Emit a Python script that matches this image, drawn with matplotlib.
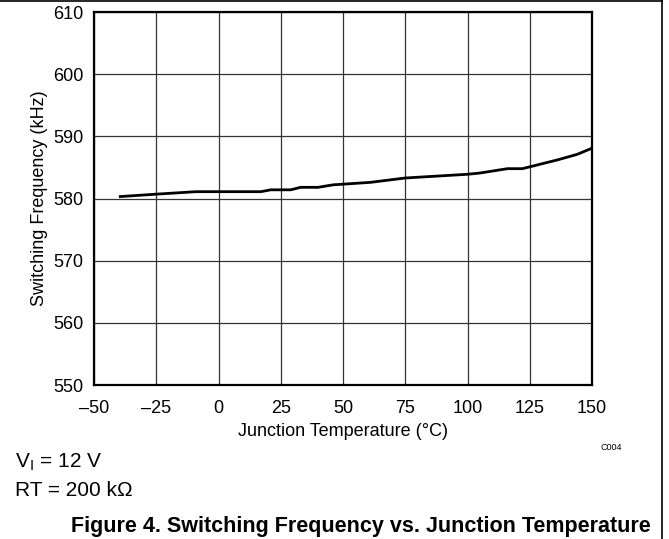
import matplotlib.pyplot as plt
import matplotlib.lines as mlines

plt.rcParams["font.family"] = ["Liberation Sans", "DejaVu Sans"]

# Data
temp_c = [-40, -25, -9, 17, 21, 29, 33, 40, 46, 61, 75, 100, 105, 116, 122, 125, 136, 144, 150]
freq_khz = [580.3, 580.7, 581.1, 581.1, 581.4, 581.4, 581.8, 581.8, 582.2, 582.6,
            583.3, 583.9, 584.1, 584.8, 584.8, 585.1, 586.2, 587.1, 588.1]

x_ticks = [-50, -25, 0, 25, 50, 75, 100, 125, 150]
x_tick_labels = ["\u201350", "\u201325", "0", "25", "50", "75", "100", "125", "150"]
y_ticks = [550, 560, 570, 580, 590, 600, 610]

fig = plt.figure(figsize=(6.69, 5.39), dpi=100)
ax = fig.add_axes([0.1405, 0.2857, 0.7445, 0.692])

ax.plot(temp_c, freq_khz, color="black", lw=2.0, solid_capstyle="butt")

ax.set_xlim(-50, 150)
ax.set_ylim(550, 610)
ax.set_xticks(x_ticks)
ax.set_xticklabels(x_tick_labels)
ax.set_yticks(y_ticks)
ax.tick_params(length=0, labelsize=13)
ax.tick_params(axis="x", pad=11)
ax.tick_params(axis="y", pad=7.5)
ax.grid(True, color="#333333", lw=0.9)
ax.set_axisbelow(True)
for s in ax.spines.values():
    s.set_linewidth(1.6)

ax.set_xlabel("Junction Temperature (\u00b0C)", fontsize=13, labelpad=4)
ax.set_ylabel("Switching Frequency (kHz)", fontsize=13, labelpad=4)

fig.text(0.897, 0.170, "C004", fontsize=6.5, ha="left", va="center")
fig.text(0.022, 0.142, "V$_\\mathregular{I}$ = 12 V", fontsize=15, ha="left", va="center")
fig.text(0.022, 0.0905, "RT = 200 k\u03a9", fontsize=15, ha="left", va="center")
fig.text(0.106, 0.003, "Figure 4. Switching Frequency vs. Junction Temperature",
         fontsize=15.5, fontweight="bold", ha="left", va="bottom")

# page frame (top and right edges)
fig.add_artist(mlines.Line2D([0, 0.99], [0.998, 0.998], color="black", lw=1.2, transform=fig.transFigure))
fig.add_artist(mlines.Line2D([0.99, 0.99], [0, 0.998], color="black", lw=1.2, transform=fig.transFigure))

fig.savefig("out.png", dpi=100)
